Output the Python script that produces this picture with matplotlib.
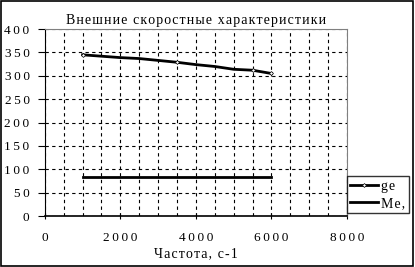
import matplotlib.pyplot as plt
from matplotlib.patches import Rectangle
from matplotlib.ticker import MultipleLocator

# data
freq = [1000, 1500, 2000, 2500, 3000, 3500, 4000, 4500, 5000, 5500, 6000]
ge = [345, 342, 339, 337, 333, 329, 324, 320, 314, 312, 305]
me_freq = [1000, 6000]
me = [84, 84]
x_ticks = [0, 2000, 4000, 6000, 8000]
y_ticks = [0, 50, 100, 150, 200, 250, 300, 350, 400]

title = "Внешние скоростные характеристики"
xlabel = "Частота, с-1"


def spaced(s, sep="\u2009"):
    # imitate the stretched letter spacing of the original
    return sep.join(s)


plt.rcParams['font.family'] = ['Liberation Serif', 'DejaVu Serif']

fig = plt.figure(figsize=(4.15, 2.67), dpi=100)
ax = fig.add_axes([0.108, 0.191, 0.728, 0.700])

ax.plot(freq, ge, color="black", lw=2, marker="D", ms=2, mfc="white",
        mec="black", mew=0.5, markevery=[0, 5, 9, 10], label=spaced("ge", "\u200a"))
ax.plot(me_freq, me, color="black", lw=2, label=spaced("Me,", "\u200a"))

ax.set_xlim(0, 8000)
ax.set_ylim(0, 400)
ax.set_xticks(x_ticks)
ax.set_xticklabels([spaced(str(t)) for t in x_ticks], fontsize=9.5)
ax.set_yticks(y_ticks)
ax.set_yticklabels([spaced(str(t)) for t in y_ticks], fontsize=9.5)
ax.xaxis.set_minor_locator(MultipleLocator(500))

ax.grid(which="both", axis="x", color="black", ls=(0, (3, 3)), lw=0.8)
ax.grid(which="major", axis="y", color="black", ls=(0, (3, 3)), lw=0.8)
ax.tick_params(axis="x", which="major", direction="inout", length=5, pad=9, width=0.8)
ax.tick_params(axis="x", which="minor", length=0)
ax.tick_params(axis="y", direction="out", length=5, pad=6, width=0.8)

ax.spines["top"].set_color("#808080")
ax.spines["right"].set_color("#808080")
ax.spines["left"].set_linewidth(0.8)
ax.spines["bottom"].set_linewidth(1.2)

ax.set_title(spaced(title, "\u200a"), fontsize=10, pad=4)
ax.set_xlabel(spaced(xlabel, "\u200a"), fontsize=10, labelpad=-3)
ax.xaxis.set_label_coords(0.5, -0.165)

leg = ax.legend(loc="lower left", bbox_to_anchor=(1.0, 0.015), fontsize=10,
                frameon=True, fancybox=False, edgecolor="black",
                handlelength=2.0, handletextpad=0.2, borderpad=0.25,
                borderaxespad=0, labelspacing=0.3)
leg.get_frame().set_linewidth(1)

fig.add_artist(Rectangle((0.002, 0.004), 0.994, 0.992, transform=fig.transFigure,
                         fill=False, lw=1.2, ec="black"))

fig.savefig("out.png", dpi=100)
